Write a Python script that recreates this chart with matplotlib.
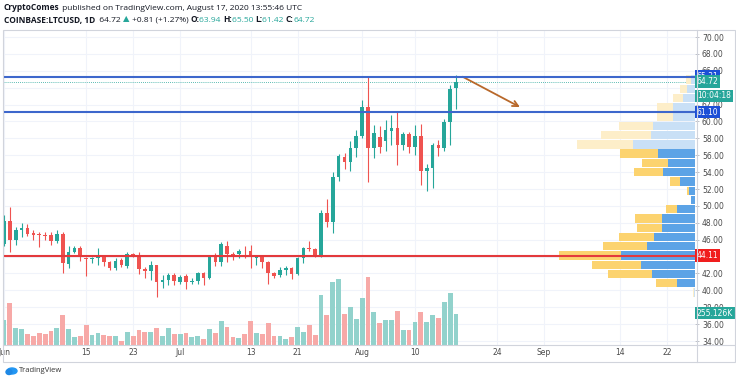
import matplotlib
matplotlib.use('Agg')
import matplotlib.pyplot as plt
import matplotlib.transforms as mtransforms
from matplotlib.patches import Rectangle, Ellipse
from matplotlib.lines import Line2D
import pandas as pd
import numpy as np

# daily LTCUSD candles, 2020-06-01 .. 2020-08-17
start = '2020-06-01'
opens = [45.5, 48.2, 46.0, 47.1, 47.4, 46.8, 46.7, 46.6, 46.5, 45.9,
         46.7, 43.1, 44.6, 45.0, 43.8, 43.7, 43.8, 44.0, 43.3, 42.7,
         43.6, 42.9, 44.3, 44.1, 42.5, 42.3, 43.0, 41.0, 41.2, 41.8,
         41.0, 41.7, 41.0, 41.1, 42.1, 41.5, 44.0, 43.3, 45.3, 44.3,
         44.3, 44.6, 44.7, 43.85, 43.9, 43.3, 42.0, 41.8, 42.4, 42.6,
         41.9, 43.8, 45.0, 44.9, 44.1, 49.2, 48.1, 53.4, 55.8, 55.2,
         56.9, 58.3, 61.7, 56.8, 58.2, 57.7, 58.9, 59.2, 57.2, 58.5,
         57.0, 58.3, 54.1, 54.5, 57.2, 56.9, 59.9, 63.94]
highs = [48.9, 49.9, 47.5, 48.0, 47.9, 47.1, 46.9, 46.9, 46.9, 47.1,
         46.9, 45.2, 45.2, 45.2, 44.0, 44.0, 45.0, 44.1, 43.5, 43.8,
         43.8, 44.6, 44.4, 44.5, 42.8, 43.5, 43.0, 41.8, 42.1, 42.0,
         41.8, 41.9, 41.5, 42.2, 42.2, 44.1, 44.4, 45.7, 45.9, 44.6,
         44.9, 45.2, 45.4, 44.0, 44.0, 43.5, 42.2, 42.8, 42.9, 42.8,
         44.0, 45.1, 45.8, 45.0, 49.5, 50.8, 54.0, 56.2, 56.3, 57.7,
         59.0, 62.5, 65.3, 59.6, 59.5, 60.2, 60.8, 61.2, 58.8, 58.8,
         59.6, 59.7, 55.0, 57.4, 57.8, 60.3, 64.3, 65.50]
lows = [45.3, 44.6, 45.4, 46.3, 46.4, 46.0, 45.1, 46.0, 45.4, 45.6,
        42.1, 42.7, 44.4, 43.5, 41.7, 43.2, 43.0, 42.9, 42.4, 42.4,
        42.8, 42.7, 44.0, 41.9, 41.5, 41.2, 39.2, 40.3, 40.6, 40.6,
        40.8, 40.2, 40.8, 40.8, 40.6, 41.3, 42.9, 42.9, 43.4, 43.6,
        43.8, 43.8, 42.6, 43.0, 42.7, 40.8, 41.5, 41.6, 41.8, 41.4,
        41.8, 43.2, 44.7, 44.0, 44.0, 47.5, 46.8, 53.0, 54.4, 54.1,
        55.8, 58.0, 52.8, 55.7, 56.3, 56.5, 57.2, 54.8, 56.6, 56.3,
        56.0, 52.5, 51.8, 52.1, 55.9, 56.5, 57.2, 61.42]
closes = [48.2, 46.0, 47.1, 47.4, 46.7, 46.6, 46.6, 46.4, 45.9, 46.7,
          43.2, 44.6, 45.0, 43.9, 43.7, 43.8, 44.1, 43.3, 42.7, 43.5,
          43.0, 44.3, 44.1, 42.5, 42.3, 43.0, 41.0, 41.2, 41.8, 41.1,
          41.6, 41.0, 41.1, 42.1, 41.5, 44.0, 43.3, 45.5, 44.3, 44.2,
          44.7, 44.5, 43.9, 43.9, 43.3, 42.0, 41.7, 42.4, 42.6, 41.9,
          43.8, 45.0, 44.9, 44.1, 49.2, 48.1, 53.4, 55.9, 55.2, 56.9,
          58.3, 61.7, 56.8, 58.6, 57.0, 59.0, 59.2, 57.2, 58.5, 57.0,
          58.3, 54.1, 54.5, 57.2, 56.9, 59.9, 63.9, 64.72]
volumes_k = [204, 346, 142, 130, 91, 71, 99, 94, 113, 142,
             247, 128, 65, 71, 162, 85, 99, 82, 77, 71,
             37, 108, 71, 122, 105, 108, 142, 77, 142, 94,
             94, 96, 65, 71, 51, 128, 99, 198, 147, 65,
             57, 91, 198, 99, 94, 179, 71, 71, 48, 62,
             147, 105, 162, 85, 411, 247, 520, 540, 255, 312,
             218, 388, 560, 269, 184, 207, 207, 283, 122, 122,
             190, 275, 190, 247, 224, 354, 428, 255.126]

# visible range volume profile (rows from 39.2 upward)
vp_low = 39.2
vp_row = 1.096
vp_up = [1, 18, 43, 54, 74, 48, 41, 33, 33, 18, 4, 6,
         15, 32, 27, 37, 62, 44, 42, 22, 22, 12, 8, 4]
vp_down = [1, 21, 44, 49, 62, 44, 35, 25, 27, 11, 0, 2,
           10, 29, 26, 38, 56, 50, 34, 16, 16, 10, 7, 5]
vp_value_area = [False] + [True] * 15 + [False] * 8

# levels
resist_hi = 65.31
resist_lo = 61.10
support = 44.11
last_price = 64.72

price_ticks = [34, 36, 38, 40, 42, 46, 48, 50, 52, 54, 56, 58, 60, 62, 66, 68, 70]
tick_dates = ['2020-06-01', '2020-06-15', '2020-06-23', '2020-07-01', '2020-07-13', '2020-07-21',
              '2020-08-01', '2020-08-10', '2020-08-24', '2020-09-01', '2020-09-14', '2020-09-22']
tick_names = ['Jun', '15', '23', 'Jul', '13', '21', 'Aug', '10', '24', 'Sep', '14', '22']

UP = '#26a69a'
DOWN = '#ef5350'
W, H = 736, 380


def fx(x):
    return x / W


def fy(y):
    return 1 - y / H


plt.rcParams['font.family'] = ['DejaVu Sans']
fig = plt.figure(figsize=(7.36, 3.8), dpi=100)
fig.patch.set_facecolor('white')

ax = fig.add_axes([fx(3), fy(345), 692 / W, 315 / H])
ax.set_xlim(-0.17, 117.7)
ax.set_ylim(33.53, 70.83)

n = len(opens)
xs = np.arange(n)
t0 = pd.Timestamp(start)

# grid
for p in range(34, 71, 2):
    ax.axhline(p, color='#f0f3fa', lw=0.8, zorder=0)
for d in tick_dates:
    ax.axvline((pd.Timestamp(d) - t0).days, color='#f0f3fa', lw=0.8, zorder=0)

# candles
for i in range(n):
    o, h, l, c = opens[i], highs[i], lows[i], closes[i]
    col = UP if c >= o else DOWN
    ax.vlines(xs[i], l, h, color=col, lw=0.8, zorder=3)
    body = max(abs(c - o), 0.07)
    ax.bar(xs[i], body, bottom=min(o, c), width=0.62, color=col, zorder=4, linewidth=0)

ax.axhline(last_price, color=UP, lw=0.6, ls=(0, (1, 1.5)), zorder=2)

ax.annotate('', xy=(88.3, 61.55), xytext=(77.7, 65.45),
            arrowprops=dict(arrowstyle='->', color='#b8682a', lw=1.3, mutation_scale=10), zorder=6)

# volume pane
axv = ax.twinx()
axv.set_ylim(0, 255.126 * 315 / 31)
vcols = ['#92d2cc' if closes[i] >= opens[i] else '#f7a9a7' for i in range(n)]
axv.bar(xs, volumes_k, width=0.82, color=vcols, linewidth=0, zorder=1)
axv.set_yticks([])

# volume profile
axp = ax.twiny()
axp.set_xlim(692, 0)
ys = [vp_low + (i + 0.5) * vp_row for i in range(len(vp_up))]
for i in range(len(vp_up)):
    bcol = '#5ca3e6' if vp_value_area[i] else '#c9e0f6'
    ycol = '#fcd36f' if vp_value_area[i] else '#fdeec9'
    axp.barh(ys[i], vp_up[i], height=vp_row * 0.9, color=bcol, linewidth=0)
    axp.barh(ys[i], vp_down[i], left=vp_up[i], height=vp_row * 0.9, color=ycol, linewidth=0)
axp.set_xticks([])
axp.axhline(resist_hi, color='#3d67cc', lw=1.5, zorder=5)
axp.axhline(resist_lo, color='#3d67cc', lw=1.5, zorder=5)
axp.axhline(support, color='#e3393c', lw=1.5, zorder=5)

for a in (ax, axv, axp):
    for s in a.spines.values():
        s.set_visible(False)

# price scale on the right
ax.yaxis.tick_right()
ax.set_yticks(price_ticks)
ax.set_yticklabels([f'{p:.2f}' for p in price_ticks])
ax.tick_params(axis='y', labelsize=5.5, colors='#b2b5be', length=3, width=0.6,
               pad=2, labelcolor='#4a4a4a')
ax.set_xticks([(pd.Timestamp(d) - t0).days for d in tick_dates])
ax.set_xticklabels(tick_names)
ax.tick_params(axis='x', labelsize=5.5, length=0, pad=2.5, labelcolor='#4a4a4a')

trans = mtransforms.blended_transform_factory(ax.transAxes, ax.transData)
ax_px = 692


def tag(price, text, color):
    ax.text((697 - 3) / ax_px, price, text, transform=trans, fontsize=5.5, color='white',
            ha='left', va='center', zorder=10, clip_on=False,
            bbox=dict(boxstyle='square,pad=0.22', fc=color, ec='none'))


tag(resist_hi, '65.31', '#1c4fd6')
tag(last_price, '64.72', UP)
tag(63.05, '10:04:18', UP)
tag(resist_lo, '61.10', '#1c4fd6')
tag(support, '44.11', '#f01e1e')
tag(70 - (313 - 37) / 8.44, '255.126K', UP)

# frame lines
frame = '#d1d4dc'
fig.add_artist(Rectangle((fx(3), fy(362)), fx(735) - fx(3), fy(30) - fy(362),
                         transform=fig.transFigure, fill=False, ec=frame, lw=0.8))
fig.add_artist(Line2D([fx(697), fx(697)], [fy(30), fy(362)], color=frame, lw=0.8))
fig.add_artist(Line2D([fx(3), fx(735)], [fy(345), fy(345)], color=frame, lw=0.8))

# header
fig.canvas.draw()
rend = fig.canvas.get_renderer()


def run(x, y, parts, size=6):
    for text, color, weight in parts:
        t = fig.text(fx(x), fy(y), text, fontsize=size, color=color, weight=weight,
                     ha='left', va='center', family=['Open Sans', 'DejaVu Sans'])
        bb = t.get_window_extent(rend)
        x += bb.width


dark = '#131722'
green = UP
run(4, 8, [('CryptoComes', dark, 'bold'),
           (' published on TradingView.com, August 17, 2020 13:55:46 UTC', dark, 'normal')])
run(4, 20, [('COINBASE:LTCUSD, 1D', dark, 'bold'), ('  64.72 ', dark, 'normal'),
            ('▲', green, 'normal'), (' +0.81 (+1.27%) ', dark, 'normal'),
            ('O:', dark, 'bold'), ('63.94 ', green, 'normal'),
            ('H:', dark, 'bold'), ('65.50 ', green, 'normal'),
            ('L:', dark, 'bold'), ('61.42 ', green, 'normal'),
            ('C:', dark, 'bold'), ('64.72', green, 'normal')])

# footer logo
fig.add_artist(Ellipse((fx(12), fy(371)), 10 / W, 6 / H, transform=fig.transFigure,
                       color='#2196f3'))
fig.add_artist(Ellipse((fx(9), fy(372)), 6 / W, 5 / H, transform=fig.transFigure,
                       color='#1e88e5'))
fig.text(fx(19), fy(371), 'TradingView', fontsize=5.5, color='#333333', ha='left', va='center',
         family=['Open Sans', 'DejaVu Sans'])

fig.savefig('out.png', dpi=100)
